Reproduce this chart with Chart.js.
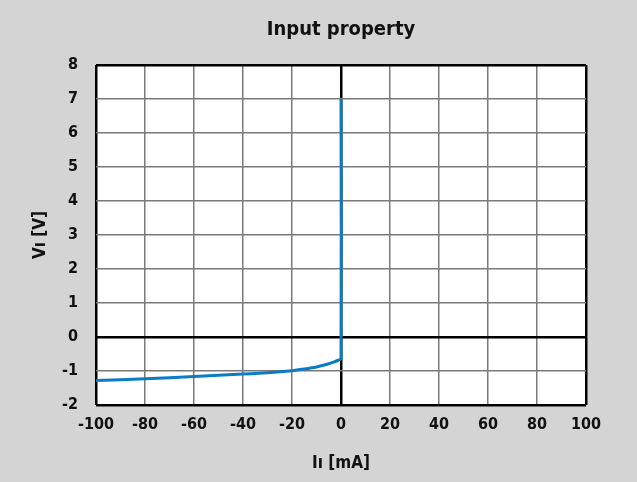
<!DOCTYPE html>
<html>
<head>
<meta charset="utf-8">
<script src="https://cdn.jsdelivr.net/npm/chart.js@4/dist/chart.umd.min.js"></script>
<style>
  html, body { margin: 0; padding: 0; background: #d4d4d4; }
  #wrap { width: 637px; height: 482px; }
</style>
</head>
<body>
<div id="wrap"><canvas id="c" width="637" height="482"></canvas></div>
<script>
const currentMA = [-100, -80, -60, -40, -30, -20, -15, -10, -6, -3, -1, 0, 0];
const voltageV  = [-1.28, -1.23, -1.16, -1.09, -1.05, -0.99, -0.94, -0.88, -0.81, -0.74, -0.68, -0.64, 7.0];
const xTicks = [-100, -80, -60, -40, -20, 0, 20, 40, 60, 80, 100];
const yTicks = [-2, -1, 0, 1, 2, 3, 4, 5, 6, 7, 8];

const FONT = "'Liberation Sans Narrow', 'DejaVu Sans Condensed', 'Roboto Condensed', sans-serif";

const points = currentMA.map((x, i) => ({ x: x, y: voltageV[i] }));

const plotBg = {
  id: 'plotBg',
  beforeDraw(chart) {
    const { ctx, chartArea: a } = chart;
    ctx.save();
    ctx.fillStyle = '#d4d4d4';
    ctx.fillRect(0, 0, chart.width, chart.height);
    ctx.fillStyle = '#ffffff';
    ctx.fillRect(a.left, a.top, a.right - a.left, a.bottom - a.top);
    ctx.restore();
  }
};

function gridColor(ctx, edges) {
  const v = ctx.tick ? ctx.tick.value : null;
  return (v === 0 || edges.includes(v)) ? '#000000' : '#7a7a7a';
}
function gridWidth(ctx, edges) {
  const v = ctx.tick ? ctx.tick.value : null;
  return (v === 0 || edges.includes(v)) ? 2.5 : 1.5;
}

new Chart(document.getElementById('c'), {
  type: 'line',
  data: {
    datasets: [{
      data: points,
      borderColor: '#0b7bc4',
      borderWidth: 3,
      pointRadius: 0,
      tension: 0.25,
      fill: false
    }]
  },
  options: {
    responsive: false,
    animation: false,
    layout: { padding: { top: 0, left: 0, right: 51, bottom: 0 } },
    plugins: {
      legend: { display: false },
      tooltip: { enabled: false },
      title: {
        display: true,
        text: 'Input property',
        fullSize: false,
        color: '#111111',
        font: { family: FONT, size: 20, weight: 'bold' },
        padding: { top: 18, bottom: 23 }
      }
    },
    scales: {
      x: {
        type: 'linear',
        min: -100, max: 100,
        afterBuildTicks(scale) { scale.ticks = xTicks.map(v => ({ value: v })); },
        afterFit(scale) { scale.height = 77; },
        ticks: {
          color: '#111111',
          font: { family: FONT, size: 16, weight: 'bold' },
          padding: 10,
          maxRotation: 0,
          callback: v => String(v)
        },
        grid: {
          drawTicks: false,
          color: c => gridColor(c, [-100, 100]),
          lineWidth: c => gridWidth(c, [-100, 100])
        },
        border: { display: false },
        title: {
          display: true,
          text: 'Iı [mA]',
          color: '#111111',
          font: { family: FONT, size: 17, weight: 'bold' },
          padding: { top: 4, bottom: 8 }
        }
      },
      y: {
        type: 'linear',
        min: -2, max: 8,
        afterBuildTicks(scale) { scale.ticks = yTicks.map(v => ({ value: v })); },
        afterFit(scale) { scale.width = 96; },
        ticks: {
          color: '#111111',
          font: { family: FONT, size: 16, weight: 'bold' },
          padding: 18,
          callback: v => String(v)
        },
        grid: {
          drawTicks: false,
          color: c => gridColor(c, [-2, 8]),
          lineWidth: c => gridWidth(c, [-2, 8])
        },
        border: { display: false },
        title: {
          display: true,
          text: 'Vı [V]',
          color: '#111111',
          font: { family: FONT, size: 17, weight: 'bold' },
          padding: { top: 30, bottom: 0 }
        }
      }
    }
  },
  plugins: [plotBg]
});
</script>
</body>
</html>
